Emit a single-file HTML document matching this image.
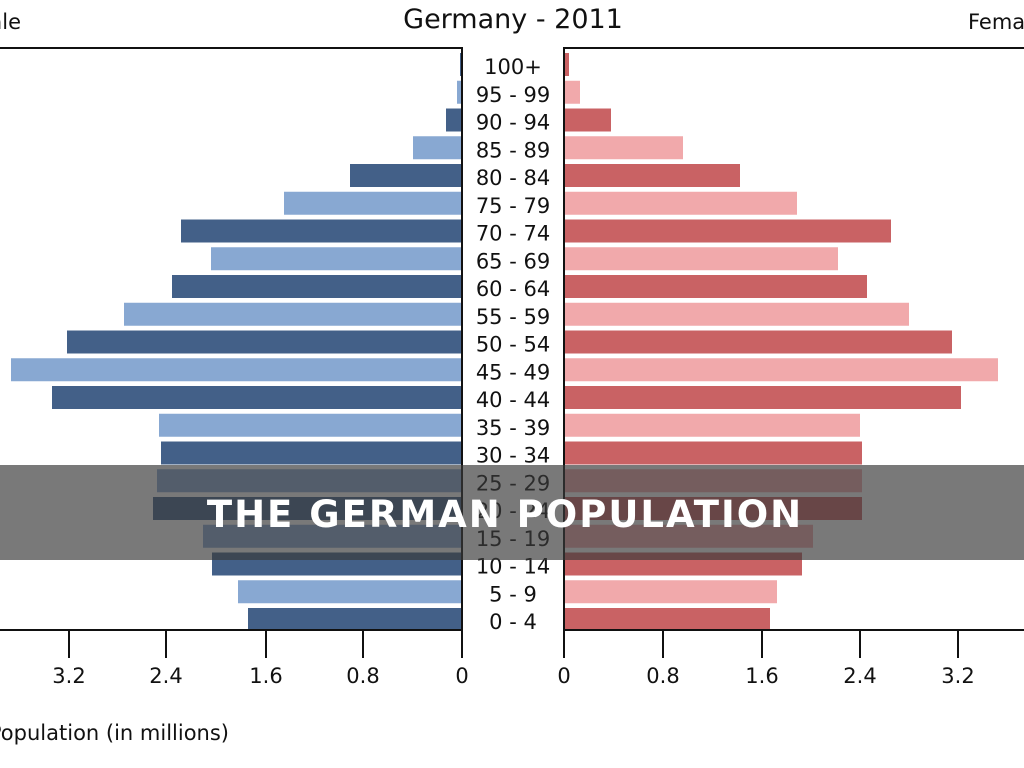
<!DOCTYPE html>
<html><head><meta charset="utf-8"><style>
html,body{margin:0;padding:0;background:#fff;width:1024px;height:768px;overflow:hidden}
svg text{font-family:"DejaVu Sans","Liberation Sans",sans-serif;fill:#111}
</style></head><body>
<svg width="1024" height="768" viewBox="0 0 1024 768" xmlns="http://www.w3.org/2000/svg">
<rect width="1024" height="768" fill="#fff"/>
<text x="513" y="28" font-size="27" text-anchor="middle">Germany - 2011</text>
<text x="21" y="29" font-size="21" text-anchor="end">Male</text>
<text x="968" y="29" font-size="21">Female</text>
<g id="bars"></g>
<g stroke="#111" stroke-width="2" fill="none">
<polyline points="0,48 462,48 462,630 0,630"/>
<polyline points="1024,48 564,48 564,630 1024,630"/>
<line x1="69" y1="630" x2="69" y2="658"/><line x1="166" y1="630" x2="166" y2="658"/><line x1="266" y1="630" x2="266" y2="658"/><line x1="363" y1="630" x2="363" y2="658"/><line x1="462" y1="630" x2="462" y2="658"/>
<line x1="564" y1="630" x2="564" y2="658"/><line x1="663" y1="630" x2="663" y2="658"/><line x1="762" y1="630" x2="762" y2="658"/><line x1="860" y1="630" x2="860" y2="658"/><line x1="958" y1="630" x2="958" y2="658"/>
</g>
<g font-size="21" text-anchor="middle">
<text x="69" y="683">3.2</text><text x="166" y="683">2.4</text><text x="266" y="683">1.6</text><text x="363" y="683">0.8</text><text x="462" y="683">0</text>
<text x="564" y="683">0</text><text x="663" y="683">0.8</text><text x="762" y="683">1.6</text><text x="860" y="683">2.4</text><text x="958" y="683">3.2</text>
</g>
<text x="229" y="740" font-size="21" text-anchor="end">Population (in millions)</text>
<g id="labels" font-size="21" text-anchor="middle"></g>
<rect x="0" y="465" width="1024" height="95" fill="#3a3a3a" fill-opacity="0.68"/>
<text x="505" y="527" font-size="37" font-weight="bold" text-anchor="middle" letter-spacing="2" style="fill:#fff;font-family:'DejaVu Sans','Liberation Sans',sans-serif">THE GERMAN POPULATION</text>
</svg>
<script>
var ages=["100+","95 - 99","90 - 94","85 - 89","80 - 84","75 - 79","70 - 74","65 - 69","60 - 64","55 - 59","50 - 54","45 - 49","40 - 44","35 - 39","30 - 34","25 - 29","20 - 24","15 - 19","10 - 14","5 - 9","0 - 4"];
var L=[460,457,446,413,350,284,181,211,172,124,67,11,52,159,161,157,153,203,212,238,248];
var R=[569,580,611,683,740,797,891,838,867,909,952,998,961,860,862,862,862,813,802,777,770];
var ns="http://www.w3.org/2000/svg",b=document.getElementById("bars"),lb=document.getElementById("labels");
for(var i=0;i<21;i++){
 var y=53+i*27.75,d=(i%2==0);
 var r1=document.createElementNS(ns,"rect");r1.setAttribute("x",L[i]);r1.setAttribute("y",y);r1.setAttribute("width",462-L[i]);r1.setAttribute("height",23);r1.setAttribute("fill",d?"#436088":"#88a8d2");b.appendChild(r1);
 var r2=document.createElementNS(ns,"rect");r2.setAttribute("x",564);r2.setAttribute("y",y);r2.setAttribute("width",R[i]-564);r2.setAttribute("height",23);r2.setAttribute("fill",d?"#c96264":"#f1a9ab");b.appendChild(r2);
 var t=document.createElementNS(ns,"text");t.setAttribute("x",513);t.setAttribute("y",y+21);t.textContent=ages[i];lb.appendChild(t);
}
</script>
</body></html>
